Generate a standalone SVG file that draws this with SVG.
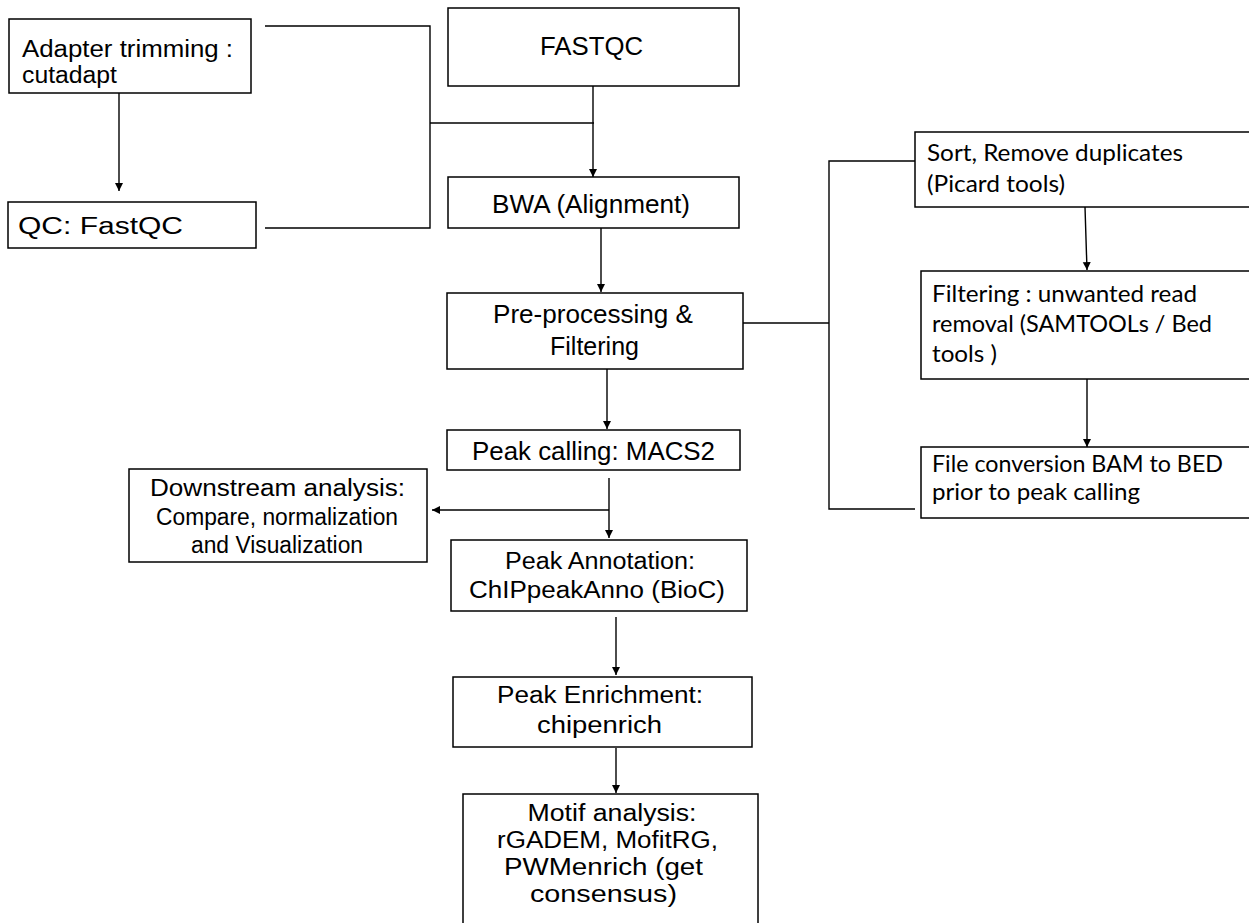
<svg xmlns="http://www.w3.org/2000/svg" width="1249" height="923" viewBox="0 0 1249 923">
<defs>
<style>
.box{fill:#fff;stroke:#000;stroke-width:1.5}
.t{font-family:"Liberation Sans",Arial,sans-serif;fill:#000;font-size:23px}
.s{font-size:26px}
.c{font-family:Lato,"Open Sans","Noto Sans",sans-serif;fill:#000;font-size:23px}
.ln{fill:none;stroke:#000;stroke-width:1.4}
</style>
<marker id="ah" markerWidth="10" markerHeight="10" refX="9" refY="5" orient="auto" markerUnits="userSpaceOnUse">
<path d="M1,1 L9,5 L1,9 Z" fill="#000"/>
</marker>
</defs>
<rect width="1249" height="923" fill="#fff"/>

<g id="connectors">
<path class="ln" d="M119,93 V191" marker-end="url(#ah)"/>
<path class="ln" d="M265,26 H430 V228 H265"/>
<path class="ln" d="M430,123 H594"/>
<path class="ln" d="M593,86 V177" marker-end="url(#ah)"/>
<path class="ln" d="M601,228 V292" marker-end="url(#ah)"/>
<path class="ln" d="M607,369 V429" marker-end="url(#ah)"/>
<path class="ln" d="M609,478 V538" marker-end="url(#ah)"/>
<path class="ln" d="M609,510 H432" marker-end="url(#ah)"/>
<path class="ln" d="M616,617 V675" marker-end="url(#ah)"/>
<path class="ln" d="M616,748 V793" marker-end="url(#ah)"/>
<path class="ln" d="M915,161 H829 V509 H915"/>
<path class="ln" d="M743,323 H829"/>
<path class="ln" d="M1085,207 L1087,270" marker-end="url(#ah)"/>
<path class="ln" d="M1087,379 V447" marker-end="url(#ah)"/>
</g>

<g id="adapter">
<rect class="box" x="9" y="19" width="242" height="74"/>
<text class="t" x="22" y="57" textLength="211" lengthAdjust="spacingAndGlyphs">Adapter trimming :</text>
<text class="t" x="22" y="83" textLength="95" lengthAdjust="spacingAndGlyphs">cutadapt</text>
</g>
<g id="qc">
<rect class="box" x="8" y="202" width="248" height="46"/>
<text class="t" font-size="29" x="18" y="234" textLength="165" lengthAdjust="spacingAndGlyphs">QC: FastQC</text>
</g>
<g id="fastqc">
<rect class="box" x="448" y="8" width="291" height="78"/>
<text class="t s" x="591.5" y="55" text-anchor="middle" textLength="103" lengthAdjust="spacingAndGlyphs">FASTQC</text>
</g>
<g id="bwa">
<rect class="box" x="448" y="177" width="291" height="51"/>
<text class="t s" x="591" y="213" text-anchor="middle" textLength="198" lengthAdjust="spacingAndGlyphs">BWA (Alignment)</text>
</g>
<g id="preprocessing">
<rect class="box" x="447" y="293" width="296" height="76"/>
<text class="t s" x="593" y="323" text-anchor="middle" textLength="200" lengthAdjust="spacingAndGlyphs">Pre-processing &amp;</text>
<text class="t s" x="594.5" y="355" text-anchor="middle" textLength="89" lengthAdjust="spacingAndGlyphs">Filtering</text>
</g>
<g id="peakcalling">
<rect class="box" x="447" y="430" width="293" height="40"/>
<text class="t s" x="593.5" y="460" text-anchor="middle" textLength="243" lengthAdjust="spacingAndGlyphs">Peak calling: MACS2</text>
</g>
<g id="downstream">
<rect class="box" x="129" y="469" width="298" height="93"/>
<text class="t" font-size="25" x="277.5" y="496" text-anchor="middle" textLength="255" lengthAdjust="spacingAndGlyphs">Downstream analysis:</text>
<text class="t" font-size="21" x="277" y="525" text-anchor="middle" textLength="242" lengthAdjust="spacingAndGlyphs">Compare, normalization</text>
<text class="t" font-size="21" x="277" y="553" text-anchor="middle" textLength="172" lengthAdjust="spacingAndGlyphs">and Visualization</text>
</g>
<g id="annotation">
<rect class="box" x="451" y="540" width="296" height="71"/>
<text class="t" x="600" y="569" text-anchor="middle" textLength="190" lengthAdjust="spacingAndGlyphs">Peak Annotation:</text>
<text class="t" x="597" y="598" text-anchor="middle" textLength="256" lengthAdjust="spacingAndGlyphs">ChIPpeakAnno (BioC)</text>
</g>
<g id="enrichment">
<rect class="box" x="453" y="677" width="299" height="70"/>
<text class="t" x="600" y="703" text-anchor="middle" textLength="206" lengthAdjust="spacingAndGlyphs">Peak Enrichment:</text>
<text class="t" x="599.5" y="733" text-anchor="middle" textLength="125" lengthAdjust="spacingAndGlyphs">chipenrich</text>
</g>
<g id="motif">
<rect class="box" x="463" y="794" width="295" height="140"/>
<text class="t" x="612" y="821" text-anchor="middle" textLength="169" lengthAdjust="spacingAndGlyphs">Motif analysis:</text>
<text class="t" x="607.5" y="848" text-anchor="middle" textLength="221" lengthAdjust="spacingAndGlyphs">rGADEM, MofitRG,</text>
<text class="t" x="603.5" y="875" text-anchor="middle" textLength="199" lengthAdjust="spacingAndGlyphs">PWMenrich (get</text>
<text class="t" x="603.5" y="902" text-anchor="middle" textLength="147" lengthAdjust="spacingAndGlyphs">consensus)</text>
</g>
<g id="sort">
<rect class="box" x="915" y="132" width="345" height="75"/>
<text class="c" x="927" y="161" textLength="256" lengthAdjust="spacingAndGlyphs">Sort, Remove duplicates</text>
<text class="c" x="927" y="192" textLength="138" lengthAdjust="spacingAndGlyphs">(Picard tools)</text>
</g>
<g id="filtering">
<rect class="box" x="921" y="271" width="339" height="108"/>
<text class="c" x="932" y="302" textLength="265" lengthAdjust="spacingAndGlyphs">Filtering : unwanted read</text>
<text class="c" x="932" y="332" textLength="280" lengthAdjust="spacingAndGlyphs">removal (SAMTOOLs / Bed</text>
<text class="c" x="932" y="362" textLength="65" lengthAdjust="spacingAndGlyphs">tools )</text>
</g>
<g id="fileconversion">
<rect class="box" x="921" y="447" width="339" height="71"/>
<text class="c" x="932" y="472" textLength="291" lengthAdjust="spacingAndGlyphs">File conversion BAM to BED</text>
<text class="c" x="932" y="500" textLength="208" lengthAdjust="spacingAndGlyphs">prior to peak calling</text>
</g>
</svg>
